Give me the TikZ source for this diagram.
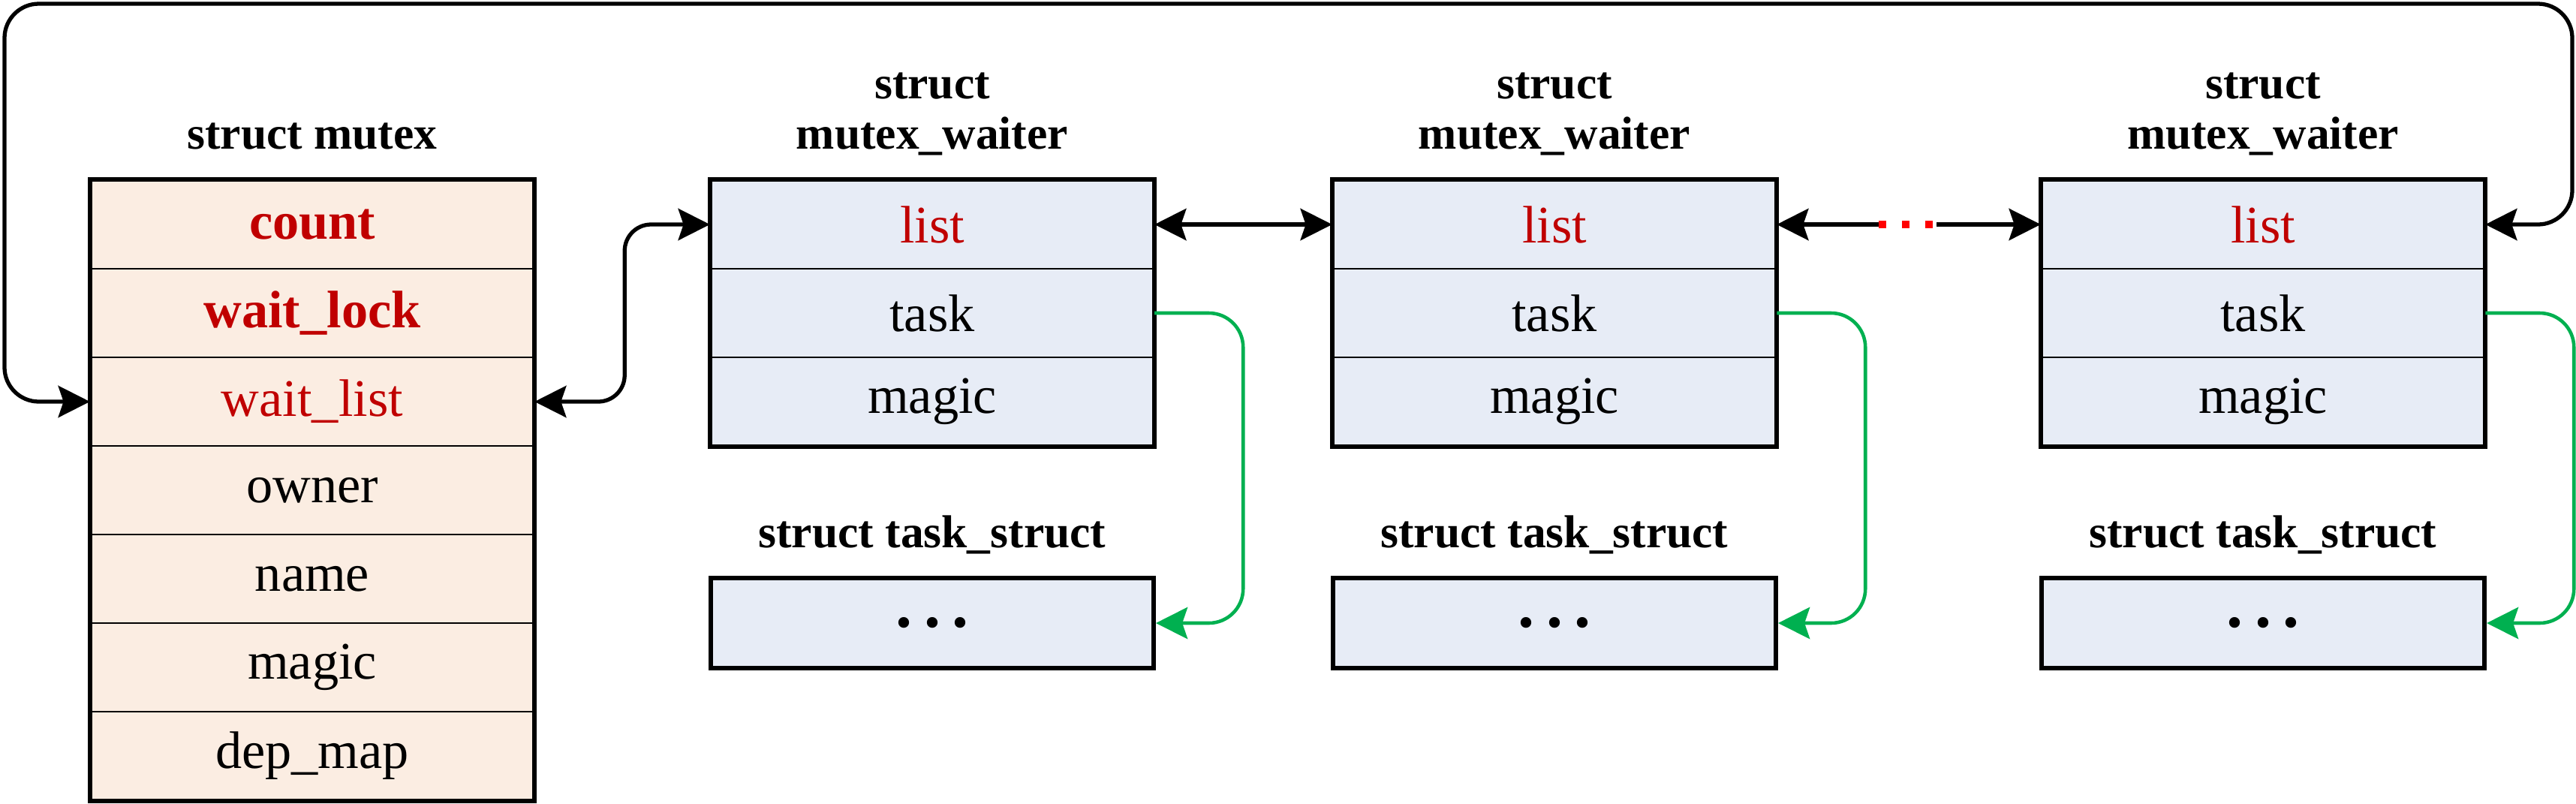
\documentclass[tikz,border=0pt]{standalone}
\usepackage{fontspec}
\setmainfont{Liberation Serif}
\usetikzlibrary{arrows.meta}
\definecolor{fondmutex}{HTML}{FBEDE2}
\definecolor{fondattente}{HTML}{E7ECF6}
\definecolor{rouge}{HTML}{C00000}
\definecolor{vert}{HTML}{00B050}
\newcommand{\rouge}[1]{\textcolor{rouge}{#1}}
\newcommand{\points}{{\fontsize{25}{28}\selectfont\textbf{.\kern4.5pt.\kern4.5pt.}}}
\newcommand{\attente}[2]{
                    \node[arow] (#1l) at (#2,-2.99) {\rouge{list}};
                    \node[arow] (#1t) at (#2,-4.17) {task};
                    \node[arow] (#1m) at (#2,-5.35) {magic};
                    \draw[cadre] (#1l.north west) rectangle (#1m.south east);
                    \node[titre, align=center] (#1n) at (#2,-1.52) {struct\\mutex\_waiter};
                    \node[titre] (#1u) at (#2,-7.12) {struct task\_struct};
                    \node[arow, cadre, minimum height=1.2cm] (#1s) at (#2,-8.30) {\points};
                    \draw[tache] (#1t.east) -- ++(1.18,0) |- (#1s.east);
}
\tikzset{
    mrow/.style={draw, line width=0.7pt, fill=fondmutex, minimum width=5.9cm, minimum height=1.18cm, inner sep=0pt, font=\fontsize{20}{24}\selectfont},
    arow/.style={mrow, fill=fondattente},
    cadre/.style={draw, line width=1.7pt},
    titre/.style={font=\fontsize{17.5}{19}\selectfont\bfseries, inner sep=0pt},
    lien/.style={line width=1.5pt},
    tache/.style={line width=1.3pt, draw=vert, -{Stealth[length=12pt, width=12pt, inset=2pt]}, rounded corners=13pt},
    pointille/.style={draw=red, line width=3pt, dash pattern=on 2.8pt off 6pt}
}

\begin{document}
\begin{tikzpicture}[>={Stealth[length=12pt, width=12pt, inset=2pt]}]
                    \useasboundingbox (0,0) rectangle (34.32,-10.70);

                    \node[titre] (mn) at (4.16,-1.82) {struct mutex};
                    \node[mrow] (m1) at (4.16,-2.99) {\rouge{\textbf{count}}};
                    \node[mrow] (m2) at (4.16,-4.17) {\rouge{\textbf{wait\_lock}}};
                    \node[mrow] (m3) at (4.16,-5.35) {\rouge{wait\_list}};
                    \node[mrow] (m4) at (4.16,-6.53) {owner};
                    \node[mrow] (m5) at (4.16,-7.71) {name};
                    \node[mrow] (m6) at (4.16,-8.89) {magic};
                    \node[mrow] (m7) at (4.16,-10.07) {dep\_map};
                    \draw[cadre] (m1.north west) rectangle (m7.south east);

                    \attente{a}{12.42}
                    \attente{b}{20.71}
                    \attente{c}{30.15}

                    \coordinate (hg) at (0.06,-0.05);
                    \coordinate (hd) at (34.27,-0.05);
                    \coordinate (pg) at (25.03,-2.99);
                    \coordinate (pd) at (25.80,-2.99);

                    \draw[lien, <->, rounded corners=13pt] (m3.west) -| (hg) -- (hd) |- (cl.east);
                    \draw[lien, <->, rounded corners=10pt] (m3.east) -- ++(1.2,0) |- (al.west);
                    \draw[lien, <->] (al.east) -- (bl.west);
                    \draw[lien, <-] (bl.east) -- (pg);
                    \draw[lien, ->] (pd) -- (cl.west);
                    \draw[pointille] (pg) -- (pd);
                \end{tikzpicture}
\end{document}
